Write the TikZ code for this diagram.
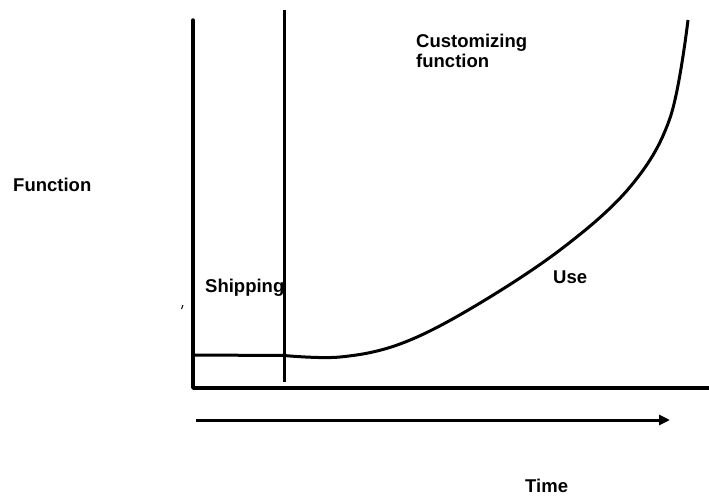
\documentclass[tikz,border=0pt]{standalone}
\usepackage{fontspec}
\setmainfont{Liberation Sans}
\usetikzlibrary{arrows.meta}
\begin{document}
\begin{tikzpicture}[x=1pt,y=-1pt,
  lbl/.style={anchor=base west,inner sep=0pt,font=\fontsize{18.5}{20}\selectfont\bfseries,align=left},
  axisline/.style={line width=3.4pt,line join=round,line cap=round},
  thinline/.style={line width=3pt}]
\useasboundingbox (0,0) rectangle (709,497);
% axes
\coordinate (ytop) at (193,20);
\coordinate (origin) at (193,388);
\coordinate (xend) at (709,388);
\draw[axisline] (ytop) -- (origin) -- (xend);
% shipping divider
\coordinate (stop) at (284,10);
\coordinate (sbot) at (284,382);
\draw[thinline] (stop) -- (sbot);
% function curve
\coordinate (c0) at (193,355);
\draw[thinline] (c0) -- (284,355.5);
\draw[thinline] plot[smooth,tension=0.6] coordinates {(284,355.5) (340,357) (400,344) (470,309) (560,250) (630,187) (670,118) (688,20)};
% time arrow
\coordinate (a0) at (196,420);
\coordinate (a1) at (670,420);
\draw[thinline,-{Triangle[length=11pt,width=10pt]}] (a0) -- (a1);
% stray mark
\coordinate (m0) at (181.5,309);
\coordinate (m1) at (183,305);
\draw[line width=1pt] (m0) -- (m1);
% labels
\node[lbl] (fn) at (13,192) {Function};
\node[lbl] (cust) at (416,68) {Customizing\\function};
\node[lbl] (ship) at (205,292) {Shipping};
\node[lbl] (use) at (553,283) {Use};
\node[lbl] (time) at (525,492) {Time};
\end{tikzpicture}
\end{document}
